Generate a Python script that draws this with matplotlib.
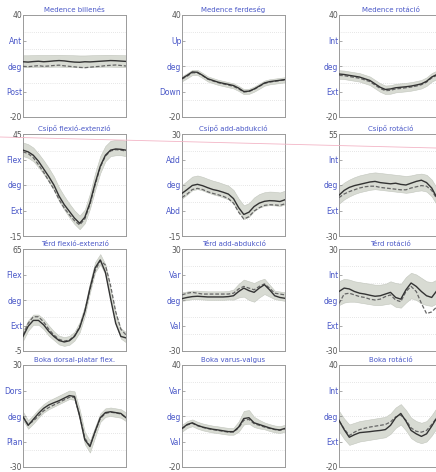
import matplotlib
matplotlib.use("Agg")
import matplotlib.pyplot as plt
from matplotlib.lines import Line2D
import numpy as np

gait_pct = list(range(0, 101, 5))

titles = ["Medence billenés", "Medence ferdeség", "Medence rotáció",
          "Csípő flexió-extenzió", "Csípő add-abdukció", "Csípő rotáció",
          "Térd flexió-extenzió", "Térd add-abdukció", "Térd rotáció",
          "Boka dorsal-platar flex.", "Boka varus-valgus", "Boka rotáció"]
y_top = [40, 40, 40, 45, 30, 55, 65, 30, 30, 30, 40, 40]
y_bottom = [-20, -20, -20, -15, -15, -30, -5, -30, -30, -30, -20, -20]
upper_labels = ["Ant", "Up", "Int", "Flex", "Add", "Int", "Flex", "Var", "Int", "Dors", "Var", "Int"]
lower_labels = ["Post", "Down", "Ext", "Ext", "Abd", "Ext", "Ext", "Val", "Ext", "Plan", "Val", "Ext"]

# ---- Pelvis ----
pelvic_tilt_solid = [12.5, 12.3, 12.6, 12.8, 12.5, 12.7, 13.0, 13.2, 13.0, 12.6, 12.3, 12.2, 12.5, 12.4, 12.6, 12.8, 13.0, 13.2, 13.1, 12.9, 12.7]
pelvic_tilt_dashed = [9.8, 9.6, 9.9, 10.2, 9.8, 10.0, 10.3, 10.5, 10.1, 9.8, 9.5, 9.2, 9.0, 9.3, 9.6, 9.8, 10.2, 10.4, 10.6, 10.3, 10.0]
pelvic_tilt_band_mid = [12.8, 12.8, 12.9, 13.0, 13.0, 13.0, 13.1, 13.1, 13.0, 12.9, 12.8, 12.7, 12.7, 12.8, 12.9, 13.0, 13.1, 13.1, 13.0, 12.9, 12.8]
pelvic_tilt_band_sd = [3.5, 3.5, 3.5, 3.5, 3.5, 3.5, 3.5, 3.5, 3.5, 3.5, 3.5, 3.5, 3.5, 3.5, 3.5, 3.5, 3.5, 3.5, 3.5, 3.5, 3.5]

pelvic_obl_solid = [2.7, 4.5, 6.5, 6.3, 4.5, 2.5, 1.5, 0.5, -0.2, -0.8, -1.5, -3.0, -5.0, -4.8, -3.5, -1.8, 0.0, 0.8, 1.2, 1.6, 2.0]
pelvic_obl_dashed = [2.3, 4.0, 6.0, 6.0, 4.3, 2.3, 1.2, 0.2, -0.5, -1.2, -2.0, -3.5, -5.3, -5.0, -3.8, -2.0, -0.3, 0.5, 1.0, 1.4, 1.8]
pelvic_obl_band_mid = [2.5, 4.3, 6.2, 6.2, 4.4, 2.4, 1.4, 0.4, -0.3, -1.0, -1.7, -3.2, -5.1, -4.9, -3.6, -1.9, -0.1, 0.7, 1.1, 1.5, 1.9]
pelvic_obl_band_sd = [1.5, 1.5, 1.5, 1.5, 1.5, 1.5, 1.5, 1.5, 1.5, 1.5, 1.5, 1.5, 1.5, 1.5, 1.5, 1.5, 1.5, 1.5, 1.5, 1.5, 1.5]

pelvic_rot_solid = [5.3, 5.0, 4.5, 4.0, 3.5, 2.5, 1.5, -0.5, -2.5, -3.8, -3.5, -2.8, -2.5, -2.2, -1.8, -1.2, -0.5, 1.0, 3.5, 5.0, 5.5]
pelvic_rot_dashed = [4.5, 4.3, 3.8, 3.3, 2.8, 1.8, 0.8, -1.2, -3.2, -4.5, -4.3, -3.5, -3.2, -2.8, -2.4, -1.8, -1.0, 0.5, 3.0, 4.5, 5.0]
pelvic_rot_band_mid = [5.0, 4.8, 4.3, 3.8, 3.3, 2.3, 1.3, -0.7, -2.7, -4.0, -3.8, -3.0, -2.7, -2.4, -2.0, -1.4, -0.7, 0.8, 3.3, 4.8, 5.3]
pelvic_rot_band_sd = [2.5, 2.5, 2.5, 2.5, 2.5, 2.5, 2.5, 2.5, 2.5, 2.5, 2.5, 2.5, 2.5, 2.5, 2.5, 2.5, 2.5, 2.5, 2.5, 2.5, 2.5]

# ---- Hip ----
hip_flex_solid = [35.5, 34.5, 32.5, 29.0, 24.5, 20.0, 15.0, 8.5, 3.5, -0.5, -4.5, -7.5, -4.0, 4.5, 16.0, 26.0, 32.5, 35.5, 36.2, 36.0, 35.5]
hip_flex_dashed = [34.5, 33.5, 31.0, 27.0, 22.5, 17.5, 12.5, 6.5, 1.5, -2.5, -6.0, -8.5, -5.0, 3.5, 15.0, 25.5, 32.0, 35.0, 35.8, 35.5, 35.0]
hip_flex_band_mid = [36.0, 35.0, 33.0, 29.5, 25.5, 21.0, 16.0, 9.5, 4.5, 0.0, -4.0, -7.0, -3.5, 5.5, 17.0, 27.0, 33.5, 36.5, 37.0, 37.0, 36.5]
hip_flex_band_sd = [4.0, 4.0, 4.0, 4.0, 4.0, 4.0, 4.0, 4.0, 4.0, 4.0, 4.0, 4.0, 4.0, 4.5, 5.0, 5.0, 4.5, 4.5, 4.5, 4.5, 4.5]

hip_add_solid = [3.8, 5.5, 7.3, 7.8, 7.2, 6.3, 5.5, 5.0, 4.3, 3.5, 1.5, -2.5, -5.5, -4.5, -2.0, -0.5, 0.3, 0.6, 0.5, 0.2, 1.0]
hip_add_dashed = [2.0, 3.5, 5.5, 6.0, 5.5, 4.5, 3.8, 3.2, 2.5, 1.5, -0.5, -4.5, -7.5, -6.5, -4.0, -2.5, -1.5, -1.2, -1.3, -1.5, -0.8]
hip_add_band_mid = [4.5, 6.3, 8.2, 8.7, 8.1, 7.2, 6.4, 5.8, 5.0, 4.2, 2.3, -1.5, -4.5, -3.5, -1.0, 0.5, 1.3, 1.6, 1.5, 1.2, 2.0]
hip_add_band_sd = [3.0, 3.0, 3.0, 3.0, 3.0, 3.0, 3.0, 3.0, 3.0, 3.0, 3.0, 3.0, 3.0, 3.0, 3.0, 3.0, 3.0, 3.0, 3.0, 3.0, 3.0]

hip_rot_solid = [4.0, 8.0, 10.5, 12.0, 13.0, 14.0, 15.0, 15.5, 14.5, 14.0, 13.5, 14.0, 13.0, 12.5, 14.0, 15.5, 16.5, 14.5, 10.0, 2.0, -3.0]
hip_rot_dashed = [2.0, 5.0, 7.0, 8.5, 10.0, 11.0, 11.5, 11.5, 10.5, 10.0, 9.5, 9.0, 8.5, 8.5, 10.0, 11.0, 12.0, 11.5, 8.0, 1.0, -4.0]
hip_rot_band_mid = [4.0, 7.5, 10.0, 12.0, 13.5, 14.5, 15.5, 16.0, 15.5, 15.0, 14.5, 14.0, 13.5, 13.0, 13.5, 14.5, 15.0, 14.0, 10.0, 3.0, -2.0]
hip_rot_band_sd = [7.0, 7.0, 7.0, 7.0, 7.0, 7.0, 7.0, 7.0, 7.0, 7.0, 7.0, 7.0, 7.0, 7.0, 7.0, 7.0, 7.0, 7.0, 7.0, 7.0, 7.0]

# ---- Knee ----
knee_flex_solid = [5.0, 12.0, 16.0, 16.0, 13.0, 8.5, 5.0, 2.2, 1.2, 2.0, 5.0, 11.0, 22.0, 38.0, 52.0, 57.5, 49.0, 31.0, 14.0, 5.0, 4.0]
knee_flex_dashed = [6.0, 14.0, 18.5, 18.5, 15.0, 10.0, 6.0, 3.0, 1.8, 2.5, 5.5, 11.5, 22.0, 37.0, 50.0, 57.0, 54.0, 40.0, 22.0, 10.0, 6.0]
knee_flex_band_mid = [5.5, 12.5, 16.5, 16.5, 13.5, 9.0, 5.5, 2.5, 1.5, 2.3, 5.2, 11.3, 22.5, 38.5, 52.5, 58.0, 51.0, 34.0, 17.0, 7.0, 4.5]
knee_flex_band_sd = [3.5, 3.5, 3.5, 3.5, 3.5, 3.5, 3.0, 3.0, 3.0, 3.0, 3.0, 3.5, 3.5, 3.5, 3.5, 3.5, 3.5, 3.5, 3.5, 3.5, 3.5]

knee_add_solid = [0.8, 1.5, 2.0, 2.2, 2.0, 1.8, 1.8, 1.8, 1.8, 2.0, 2.5, 5.0, 7.0, 5.5, 4.5, 7.0, 9.0, 6.0, 2.5, 1.5, 1.0]
knee_add_dashed = [3.0, 4.0, 4.5, 4.0, 3.5, 3.5, 3.5, 3.5, 3.5, 3.5, 4.0, 6.5, 8.0, 7.0, 6.0, 8.0, 9.5, 7.0, 4.0, 3.5, 3.0]
knee_add_band_mid = [2.0, 2.5, 3.0, 3.0, 2.8, 2.6, 2.6, 2.6, 2.6, 2.8, 3.2, 5.5, 7.0, 5.5, 4.5, 6.5, 8.0, 5.5, 3.0, 2.5, 2.0]
knee_add_band_sd = [2.5, 2.5, 2.5, 2.5, 2.5, 2.5, 2.5, 2.5, 2.5, 2.5, 3.0, 4.0, 5.0, 5.5, 5.5, 5.0, 4.5, 3.5, 2.5, 2.5, 2.5]

knee_rot_solid = [5.0, 7.0, 6.5, 5.0, 4.0, 3.5, 2.8, 2.2, 2.5, 3.5, 4.5, 1.5, 0.5, 6.0, 10.0, 8.0, 5.0, 2.5, 1.5, 5.5, 7.0]
knee_rot_dashed = [-2.0, 3.5, 4.0, 3.0, 2.0, 1.5, 0.5, 0.0, 0.5, 2.0, 3.0, 0.0, -1.0, 5.0, 8.0, 5.0, -2.0, -8.0, -7.0, -4.0, -2.0]
knee_rot_band_mid = [4.0, 5.5, 5.5, 5.0, 4.5, 4.0, 3.5, 3.0, 3.0, 3.5, 4.5, 3.0, 2.5, 6.0, 8.5, 7.5, 5.5, 4.0, 3.5, 5.0, 6.0]
knee_rot_band_sd = [7.0, 7.0, 6.5, 6.0, 6.0, 6.0, 6.0, 6.0, 6.0, 6.0, 6.5, 7.0, 7.0, 7.5, 7.5, 7.5, 7.5, 7.0, 7.0, 7.0, 7.0]

# ---- Ankle ----
ankle_flex_solid = [-0.5, -5.5, -2.0, 1.5, 4.5, 6.5, 7.8, 9.0, 10.5, 12.0, 11.5, 0.0, -14.0, -18.0, -9.0, -1.0, 2.0, 2.5, 2.0, 1.5, -1.0]
ankle_flex_dashed = [-0.5, -5.0, -3.0, 0.0, 3.0, 5.0, 6.5, 8.0, 9.5, 11.0, 11.0, 0.5, -13.0, -17.5, -9.5, -1.5, 1.5, 2.2, 1.8, 1.2, -1.0]
ankle_flex_band_mid = [0.0, -5.0, -2.0, 1.5, 4.5, 6.5, 8.0, 9.5, 11.0, 12.5, 12.0, 1.0, -13.0, -18.0, -9.5, -1.0, 2.0, 2.5, 2.0, 1.5, -0.5]
ankle_flex_band_sd = [2.5, 2.5, 2.5, 2.5, 2.5, 2.5, 2.5, 2.5, 2.5, 2.5, 2.5, 3.0, 3.5, 3.5, 3.0, 2.5, 2.5, 2.5, 2.5, 2.5, 2.5]

ankle_var_solid = [2.7, 5.0, 6.0, 4.5, 3.5, 2.8, 2.2, 1.8, 1.3, 0.8, 0.8, 3.5, 8.5, 9.0, 6.0, 5.0, 4.0, 3.0, 2.2, 1.8, 2.7]
ankle_var_dashed = [2.5, 4.7, 5.7, 4.3, 3.3, 2.6, 2.0, 1.5, 1.0, 0.5, 0.6, 3.0, 7.5, 8.0, 5.5, 4.5, 3.5, 2.7, 2.0, 1.6, 2.5]
ankle_var_band_mid = [2.8, 5.0, 6.0, 4.6, 3.6, 2.9, 2.3, 1.9, 1.4, 1.0, 1.0, 3.8, 9.0, 9.5, 6.5, 5.2, 4.2, 3.2, 2.4, 2.0, 2.8]
ankle_var_band_sd = [2.0, 2.0, 2.0, 2.0, 2.0, 2.0, 2.0, 2.0, 2.0, 2.0, 2.0, 3.0, 4.0, 4.0, 3.0, 2.5, 2.0, 2.0, 2.0, 2.0, 2.0]

ankle_rot_solid = [7.5, 2.0, -2.5, -1.0, 0.2, 0.5, 0.8, 1.2, 1.5, 2.0, 4.5, 9.0, 11.5, 7.0, 1.5, -0.5, -2.0, -0.5, 4.0, 9.0, 11.0]
ankle_rot_dashed = [7.0, 2.5, -1.5, 0.5, 2.0, 2.8, 3.5, 4.0, 4.5, 5.0, 6.5, 9.5, 10.5, 7.5, 3.0, 1.0, 0.5, 1.5, 5.0, 9.0, 10.5]
ankle_rot_band_mid = [7.0, 2.5, -1.0, 0.0, 1.0, 1.5, 2.0, 2.5, 3.0, 3.5, 5.5, 9.0, 11.0, 7.5, 3.0, 1.0, 0.0, 1.0, 4.5, 9.0, 10.5]
ankle_rot_band_sd = [6.0, 6.0, 6.0, 6.0, 6.0, 6.0, 6.0, 6.0, 6.0, 6.0, 6.0, 6.0, 6.0, 6.0, 6.0, 6.0, 6.0, 6.0, 6.0, 6.0, 6.0]

solids = [pelvic_tilt_solid, pelvic_obl_solid, pelvic_rot_solid,
          hip_flex_solid, hip_add_solid, hip_rot_solid,
          knee_flex_solid, knee_add_solid, knee_rot_solid,
          ankle_flex_solid, ankle_var_solid, ankle_rot_solid]
dasheds = [pelvic_tilt_dashed, pelvic_obl_dashed, pelvic_rot_dashed,
           hip_flex_dashed, hip_add_dashed, hip_rot_dashed,
           knee_flex_dashed, knee_add_dashed, knee_rot_dashed,
           ankle_flex_dashed, ankle_var_dashed, ankle_rot_dashed]
band_mids = [pelvic_tilt_band_mid, pelvic_obl_band_mid, pelvic_rot_band_mid,
             hip_flex_band_mid, hip_add_band_mid, hip_rot_band_mid,
             knee_flex_band_mid, knee_add_band_mid, knee_rot_band_mid,
             ankle_flex_band_mid, ankle_var_band_mid, ankle_rot_band_mid]
band_sds = [pelvic_tilt_band_sd, pelvic_obl_band_sd, pelvic_rot_band_sd,
            hip_flex_band_sd, hip_add_band_sd, hip_rot_band_sd,
            knee_flex_band_sd, knee_add_band_sd, knee_rot_band_sd,
            ankle_flex_band_sd, ankle_var_band_sd, ankle_rot_band_sd]

W, H = 436, 472
fig = plt.figure(figsize=(W / 100, H / 100), dpi=100)
fig.patch.set_facecolor("white")

col_left = [23, 182, 339]
row_top = [15, 134, 249, 365]
ax_w, ax_h = 103, 102

blue = "#4a58c8"
num_col = "#555555"

for i in range(12):
    r, c = divmod(i, 3)
    ax = fig.add_axes([col_left[c] / W, 1 - (row_top[r] + ax_h) / H, ax_w / W, ax_h / H])
    lo, hi = y_bottom[i], y_top[i]
    ax.set_xlim(0, 100)
    ax.set_ylim(lo, hi)
    mid = np.array(band_mids[i])
    sd = np.array(band_sds[i])
    ax.fill_between(gait_pct, mid - sd, mid + sd, color="#d8dbd3", lw=0.4, edgecolor="#c2c6bd", zorder=1)
    for k in range(1, 6):
        ax.axhline(lo + k * (hi - lo) / 6, color="#cfcfcf", lw=0.5, ls=(0, (1, 2)), zorder=0.5)
    ax.plot(gait_pct, dasheds[i], color="#666666", lw=0.9, ls=(0, (3, 1.5)), zorder=3)
    ax.plot(gait_pct, solids[i], color="#333333", lw=1.0, zorder=4)

    ticks = [hi, lo + 3 * (hi - lo) / 4, lo + (hi - lo) / 2, lo + (hi - lo) / 4, lo]
    ax.set_yticks(ticks)
    ax.set_yticklabels([str(hi), upper_labels[i], "deg", lower_labels[i], str(lo)])
    ax.tick_params(axis="y", length=2, width=0.5, pad=0.5, labelsize=5.5, colors="#888888", direction="in")
    for j, lab in enumerate(ax.get_yticklabels()):
        lab.set_color(num_col if j in (0, 4) else blue)
    ax.set_xticks([])
    for sp in ax.spines.values():
        sp.set_color("#9a9a9a")
        sp.set_linewidth(0.7)
    ax.set_title(titles[i], fontsize=5, color=blue, pad=2)

fig.add_artist(Line2D([0, 1], [1 - 137 / H, 1 - 148 / H], color="#f3b5c6", lw=0.6,
                      transform=fig.transFigure, zorder=10))

fig.savefig("out.png", dpi=100, facecolor="white")
